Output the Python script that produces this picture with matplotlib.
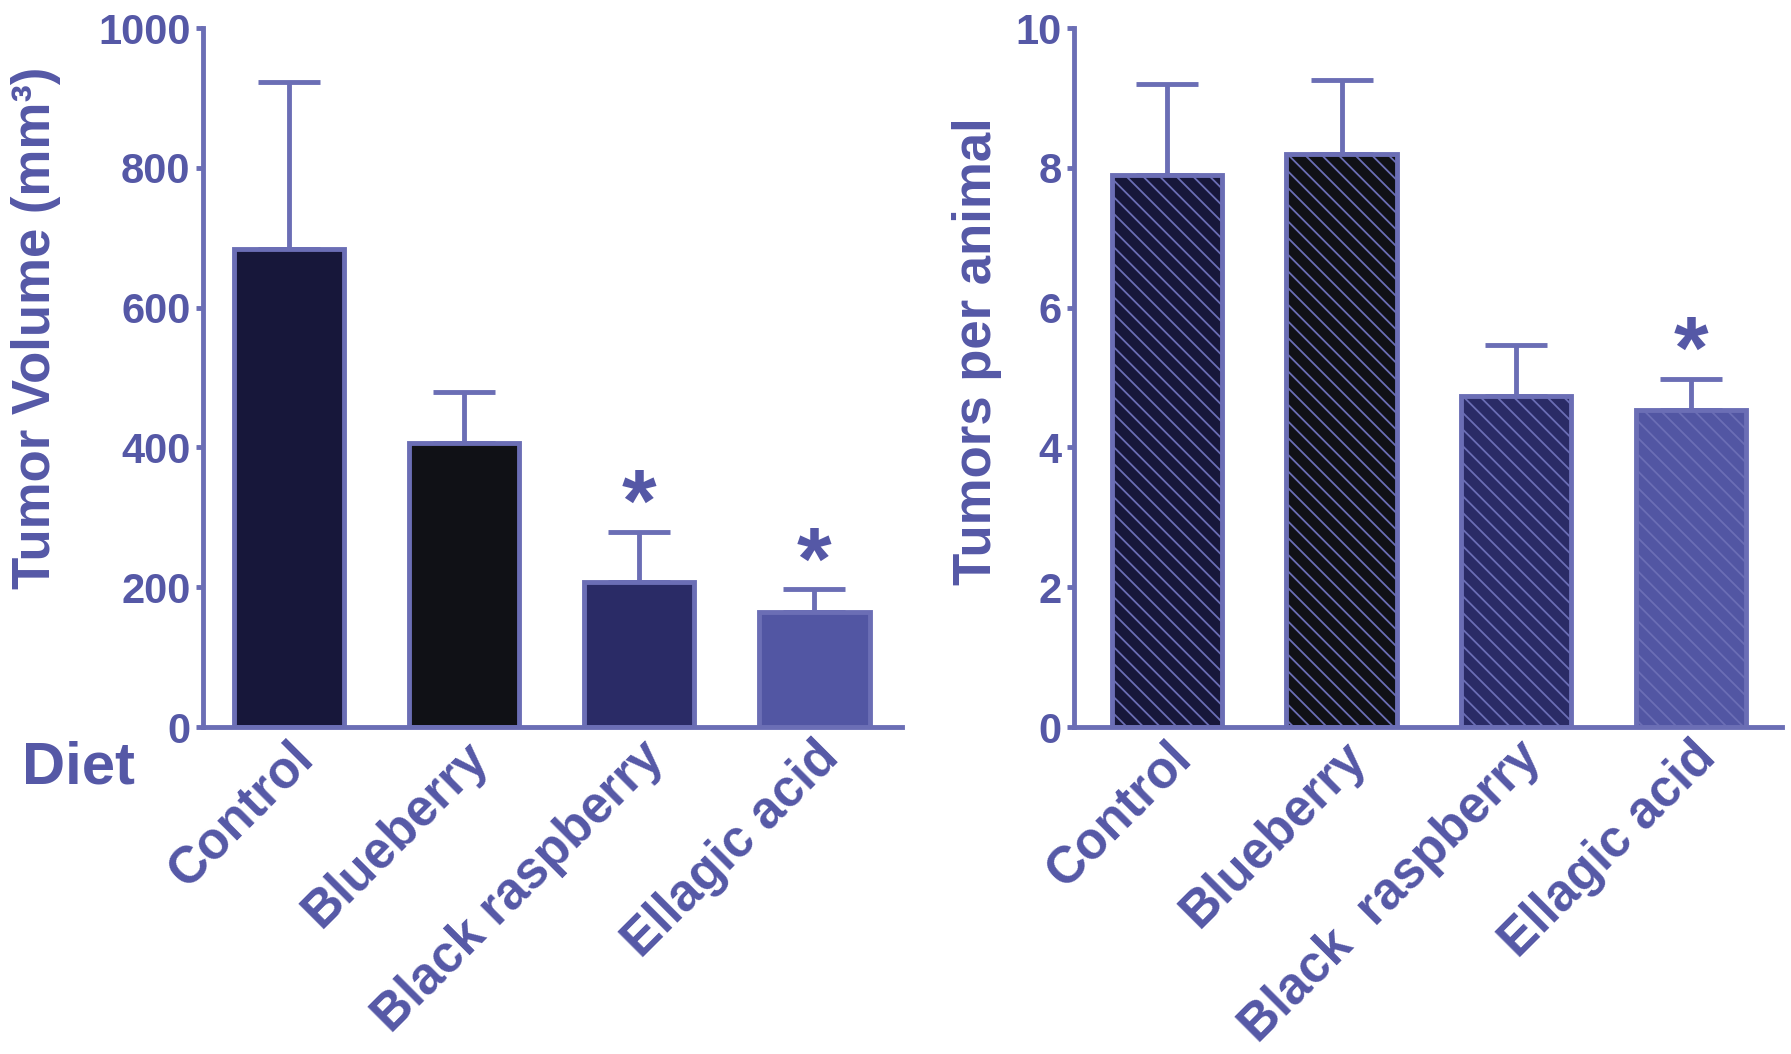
import matplotlib
matplotlib.use("Agg")
import matplotlib.pyplot as plt

# diet groups and their results (mean, upper SEM)
diets = ["Control", "Blueberry", "Black raspberry", "Ellagic acid"]
diets_right = ["Control", "Blueberry", "Black  raspberry", "Ellagic acid"]
volume_mean = [684, 407, 207, 165]
volume_err = [239, 73, 72, 32]
volume_sig = [False, False, True, True]
tumors_mean = [7.9, 8.2, 4.73, 4.53]
tumors_err = [1.3, 1.05, 0.74, 0.45]
tumors_sig = [False, False, False, True]
bar_colors = ["#17173a", "#101116", "#2a2b66", "#5256a3"]

edge = "#6b6eb5"
ink = "#5558a6"

plt.rcParams["font.family"] = ["Liberation Sans", "DejaVu Sans"]
plt.rcParams["font.weight"] = "bold"
plt.rcParams["axes.labelweight"] = "bold"
plt.rcParams["hatch.linewidth"] = 1.3

fig = plt.figure(figsize=(17.91, 10.54), dpi=100)
ax1 = fig.add_axes([0.1133, 0.3102, 0.3903, 0.6632])
ax2 = fig.add_axes([0.5997, 0.3102, 0.3953, 0.6632])


def panel(ax, means, errs, sig, labels, ymax, step, ylabel, hatch, xlim, lpos):
    x = list(range(len(means)))
    ax.errorbar(x, means, yerr=[[0] * len(errs), errs], fmt="none",
                ecolor=edge, elinewidth=3.5, capsize=22, capthick=3.5, zorder=1)
    ax.bar(x, means, width=0.63, color=bar_colors, edgecolor=edge,
           linewidth=3.5, hatch=hatch, zorder=2)
    for i in range(len(means)):
        if sig[i]:
            ax.annotate("*", (x[i], means[i] + errs[i]), xytext=(0, -13),
                        textcoords="offset points", ha="center", va="bottom",
                        fontsize=64, color=ink)
    ax.set_xlim(*xlim)
    ax.set_ylim(0, ymax)
    ax.set_yticks(range(0, ymax + step, step))
    ax.set_xticks(x, labels, rotation=45, ha="right", va="top",
                  rotation_mode="anchor")
    for side in ["top", "right"]:
        ax.spines[side].set_visible(False)
    for side in ["left", "bottom"]:
        ax.spines[side].set_color(edge)
        ax.spines[side].set_linewidth(3.5)
    ax.tick_params(axis="y", direction="out", length=5, width=3.5, color=edge,
                   labelsize=30, labelcolor=ink, pad=4)
    ax.tick_params(axis="x", length=0, labelsize=37, labelcolor=ink, pad=4)
    ax.set_ylabel(ylabel, fontsize=38, color=ink)
    ax.yaxis.set_label_coords(*lpos)


panel(ax1, volume_mean, volume_err, volume_sig, diets, 1000, 200,
      "Tumor Volume (mm³)", None, (-0.49, 3.5), (-0.203, 0.571))
panel(ax2, tumors_mean, tumors_err, tumors_sig, diets_right, 10, 2,
      "Tumors per animal", "\\\\", (-0.53, 3.52), (-0.102, 0.538))

fig.text(0.0436, 0.2713, "Diet", fontsize=43, color=ink, ha="center", va="center")

fig.savefig("out.png", dpi=100)
